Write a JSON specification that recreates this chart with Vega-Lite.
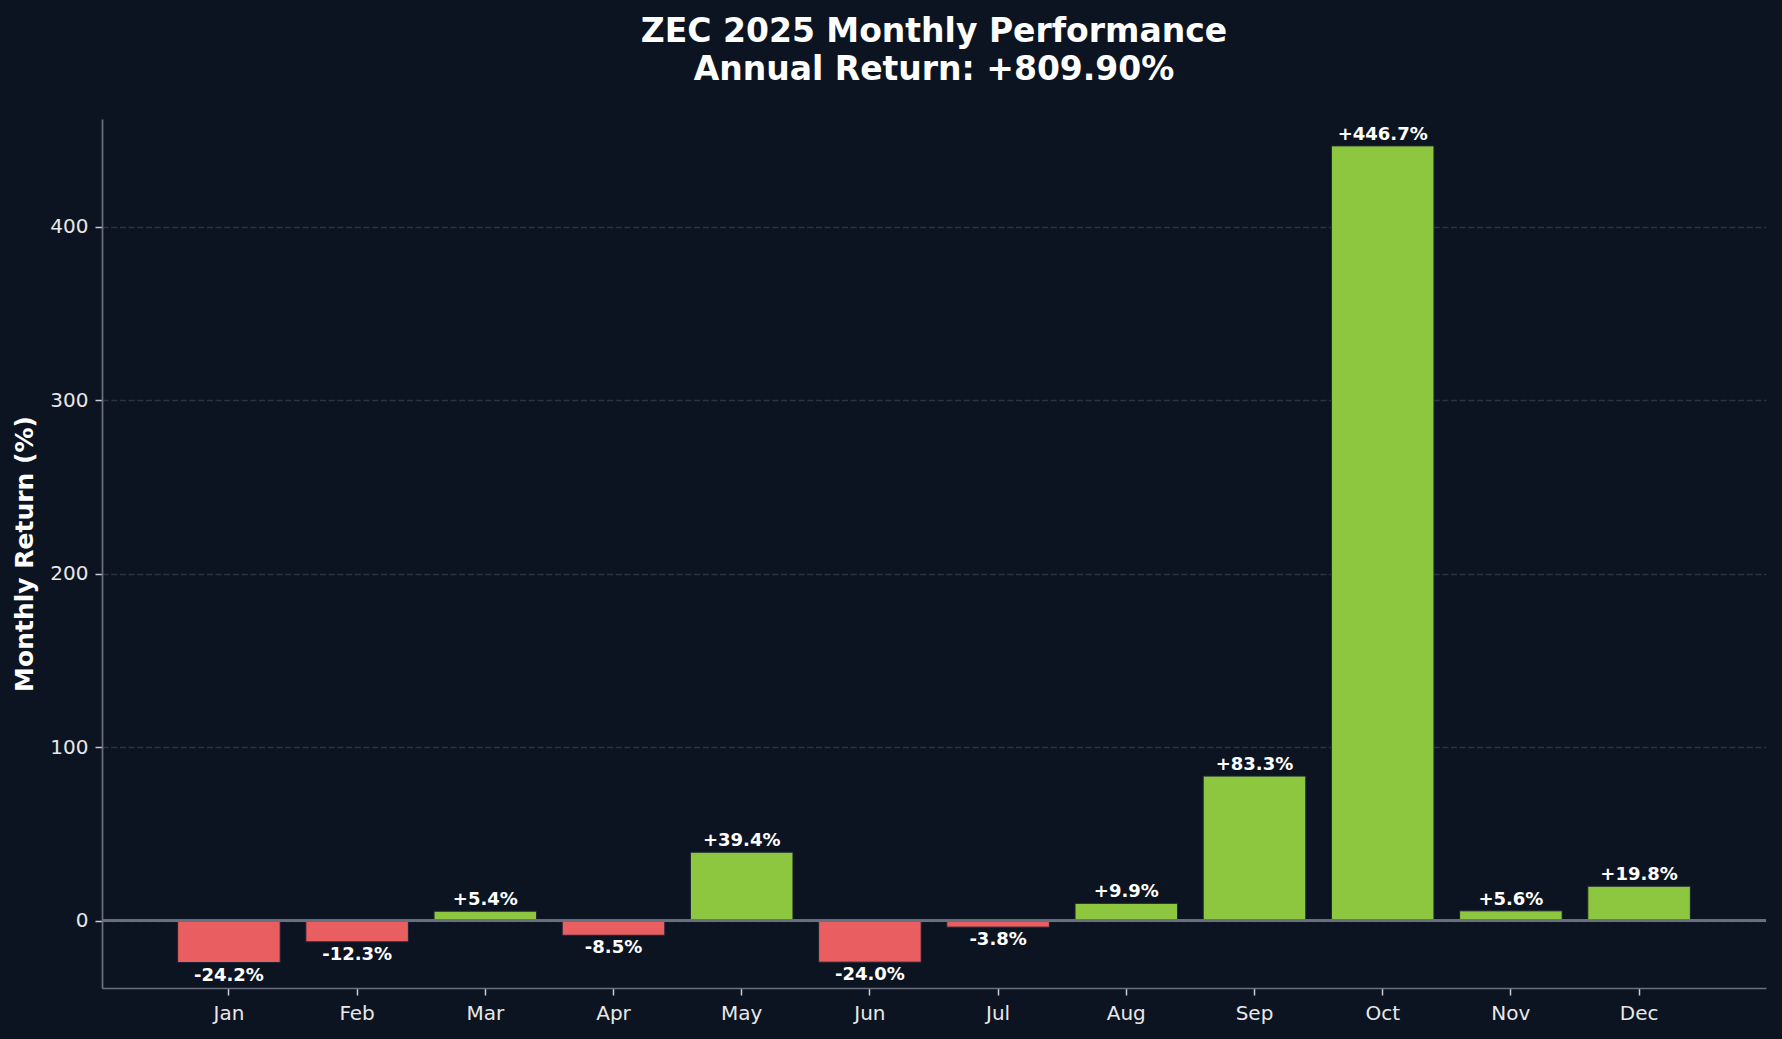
{
  "$schema": "https://vega.github.io/schema/vega-lite/v6.json",
  "width": 1664,
  "height": 869,
  "autosize": {"type": "none"},
  "padding": {"left": 102, "top": 119, "right": 16, "bottom": 51},
  "background": "#0d1421",
  "title": {
    "text": ["ZEC 2025 Monthly Performance", "Annual Return: +809.90%"],
    "font": "DejaVu Sans",
    "fontSize": 33,
    "fontWeight": "bold",
    "color": "#ffffff",
    "lineHeight": 38,
    "anchor": "middle",
    "offset": 32
  },
  "config": {
    "view": {"stroke": null},
    "font": "DejaVu Sans",
    "axis": {
      "labelFont": "DejaVu Sans",
      "labelFontSize": 20,
      "labelColor": "#e8e8e8",
      "tickColor": "#c8ccd2",
      "tickSize": 7,
      "tickWidth": 1.5,
      "domainColor": "#6b7080",
      "domainWidth": 1.7,
      "labelPadding": 7
    }
  },
  "data": {
    "values": [
      {"month": "Jan", "ret": -24.2, "label": "-24.2%"},
      {"month": "Feb", "ret": -12.3, "label": "-12.3%"},
      {"month": "Mar", "ret": 5.4, "label": "+5.4%"},
      {"month": "Apr", "ret": -8.5, "label": "-8.5%"},
      {"month": "May", "ret": 39.4, "label": "+39.4%"},
      {"month": "Jun", "ret": -24.0, "label": "-24.0%"},
      {"month": "Jul", "ret": -3.8, "label": "-3.8%"},
      {"month": "Aug", "ret": 9.9, "label": "+9.9%"},
      {"month": "Sep", "ret": 83.3, "label": "+83.3%"},
      {"month": "Oct", "ret": 446.7, "label": "+446.7%"},
      {"month": "Nov", "ret": 5.6, "label": "+5.6%"},
      {"month": "Dec", "ret": 19.8, "label": "+19.8%"}
    ]
  },
  "encoding": {
    "x": {
      "field": "month",
      "type": "nominal",
      "sort": null,
      "scale": {"paddingInner": 0.2, "paddingOuter": 0.59},
      "axis": {"title": null, "labelAngle": 0, "grid": false, "labelPadding": 8}
    },
    "y": {
      "field": "ret",
      "type": "quantitative",
      "scale": {"domain": [-38.9, 462.2], "nice": false, "zero": false},
      "axis": {
        "title": "Monthly Return (%)",
        "titleFont": "DejaVu Sans",
        "titleFontSize": 25,
        "titleFontWeight": "bold",
        "titleColor": "#ffffff",
        "titlePadding": 12,
        "values": [0, 100, 200, 300, 400],
        "grid": true,
        "gridColor": "#2b3340",
        "gridDash": [6, 2.7],
        "gridWidth": 1.3
      }
    }
  },
  "layer": [
    {
      "mark": {"type": "bar", "stroke": "#1c2433", "strokeWidth": 1},
      "encoding": {
        "y2": {"datum": 0},
        "color": {
          "condition": {"test": "datum.ret >= 0", "value": "#8dc63f"},
          "value": "#e95f61"
        }
      }
    },
    {
      "mark": {"type": "rule", "color": "#6b7080", "strokeWidth": 1.7},
      "encoding": {"y": {"datum": 0}, "x": null}
    },
    {
      "transform": [{"filter": "datum.ret >= 0"}],
      "mark": {"type": "text", "baseline": "bottom", "dy": -2, "font": "DejaVu Sans", "fontSize": 18, "fontWeight": "bold", "color": "#ffffff"},
      "encoding": {"text": {"field": "label"}}
    },
    {
      "transform": [{"filter": "datum.ret < 0"}],
      "mark": {"type": "text", "baseline": "top", "dy": 4, "font": "DejaVu Sans", "fontSize": 18, "fontWeight": "bold", "color": "#ffffff"},
      "encoding": {"text": {"field": "label"}}
    }
  ]
}
